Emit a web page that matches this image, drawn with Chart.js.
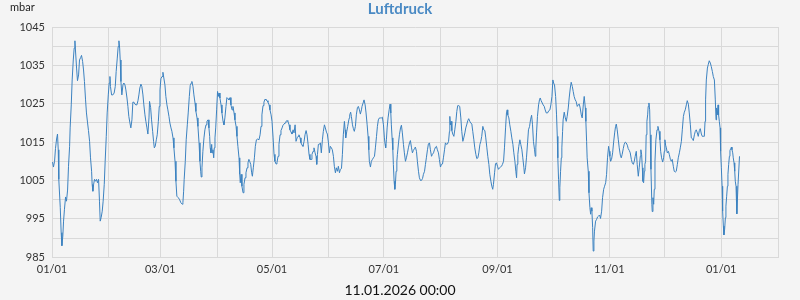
<!DOCTYPE html>
<html>
<head>
    <title>Luftdruck</title>
    <script src="https://cdn.jsdelivr.net/npm/chart.js"></script>
    <style>
        body { margin: 0; background: #f4f4f4; }
        #wrap { width: 800px; height: 300px; }
    </style>
</head>
<body>
    <div id="wrap"><canvas id="luftdruckChart"></canvas></div>

    <script>
        // Tage seit 01.01.2025 00:00
        const days = [
            0.3, 0.8, 1.4, 1.9, 2.5, 3.0, 3.4, 3.7, 4.5, 5.0, 5.4, 5.9, 6.3, 6.8, 7.4, 7.9, 8.5, 9.0, 9.6, 9.9,
            10.5, 11.0, 11.6, 12.1, 12.5, 12.8, 13.4, 13.9, 14.5, 15.0, 15.6, 16.1, 16.7, 17.2, 17.7, 18.3, 18.8, 19.4, 19.9, 20.5,
            21.0, 21.6, 21.9, 22.3, 22.7, 23.2, 23.8, 24.3, 24.8, 25.4, 25.9, 26.3, 26.8, 27.4, 27.9, 28.5, 29.0, 29.6, 30.1, 30.7,
            31.2, 31.6, 31.9, 32.5, 33.2, 33.9, 34.5, 35.0, 35.6, 36.1, 36.5, 36.9, 37.2, 37.6, 38.1, 38.7, 39.2, 39.8, 40.3, 40.9,
            41.4, 41.9, 42.5, 43.0, 43.6, 44.1, 44.7, 45.2, 45.8, 46.3, 46.9, 47.4, 47.9, 48.5, 49.0, 49.6, 50.1, 50.7, 51.2, 51.8,
            52.3, 52.9, 53.2, 53.8, 54.3, 54.9, 55.4, 55.8, 56.3, 56.9, 57.4, 58.0, 58.5, 58.9, 59.4, 60.0, 60.5, 61.0, 61.6, 62.1,
            62.7, 63.2, 63.8, 64.3, 64.9, 65.4, 66.0, 66.5, 67.1, 67.6, 68.1, 68.9, 69.6, 70.3, 71.1, 71.4, 71.8, 72.1, 72.7, 73.2,
            73.8, 74.3, 74.9, 75.4, 76.0, 76.3, 76.9, 77.4, 78.0, 78.5, 79.1, 79.6, 80.2, 80.7, 81.1, 81.4, 81.8, 82.3, 82.9, 83.4,
            84.0, 84.5, 85.1, 85.6, 86.0, 86.3, 86.7, 87.1, 87.4, 87.8, 88.2, 88.5, 88.9, 89.3, 89.8, 90.3, 90.7, 91.1, 91.6, 92.2,
            92.7, 93.3, 93.8, 94.3, 94.9, 95.4, 96.0, 96.5, 97.1, 97.6, 98.2, 98.7, 99.3, 99.8, 100.4, 100.9, 101.4, 102.0, 102.4, 102.7,
            103.1, 103.6, 104.2, 104.7, 105.3, 105.8, 106.4, 106.9, 107.4, 107.8, 108.4, 108.9, 109.3, 109.8, 110.4, 110.9, 111.5, 112.2, 112.9, 113.5,
            114.0, 114.5, 115.1, 115.6, 116.2, 116.7, 117.3, 117.8, 118.4, 118.9, 119.5, 120.0, 120.6, 121.1, 121.6, 122.2, 122.7, 123.3, 123.8, 124.4,
            124.9, 125.5, 126.0, 126.6, 127.1, 127.6, 128.2, 128.7, 129.3, 129.8, 130.4, 130.9, 131.5, 132.0, 132.6, 133.1, 133.7, 134.2, 134.7, 135.3,
            135.8, 136.4, 136.9, 137.5, 138.0, 138.6, 139.1, 139.7, 140.2, 140.7, 141.3, 141.8, 142.4, 142.9, 143.5, 144.0, 144.4, 144.8, 145.3, 145.8,
            146.4, 146.9, 147.5, 148.0, 148.6, 149.1, 149.7, 150.2, 150.8, 151.3, 151.8, 152.4, 152.9, 153.5, 154.0, 154.6, 155.1, 155.7, 156.2, 156.8,
            157.3, 157.9, 158.4, 158.9, 159.5, 159.9, 160.2, 160.8, 161.3, 161.9, 162.2, 162.4, 162.9, 163.3, 163.9, 164.4, 164.9, 165.5, 166.0, 166.6,
            167.1, 167.7, 168.2, 168.8, 169.1, 169.7, 170.2, 170.8, 171.3, 171.9, 172.4, 172.8, 173.1, 173.7, 174.2, 174.8, 175.3, 175.9, 176.4, 177.0,
            177.5, 178.0, 178.6, 179.1, 179.7, 180.2, 180.8, 181.3, 181.7, 182.0, 182.4, 182.8, 183.3, 183.9, 184.4, 184.8, 185.1, 185.5, 185.9, 186.2,
            186.6, 187.0, 187.3, 187.7, 188.1, 188.4, 189.0, 189.5, 190.1, 190.6, 191.1, 191.7, 192.2, 192.8, 193.3, 193.9, 194.4, 195.0, 195.5, 196.1,
            196.6, 197.1, 197.7, 198.2, 198.8, 199.3, 199.9, 200.4, 201.0, 201.5, 202.1, 202.6, 203.2, 203.7, 204.2, 204.8, 205.3, 205.9, 206.4, 207.0,
            207.5, 208.1, 208.6, 209.2, 209.7, 210.2, 210.8, 211.3, 211.9, 212.4, 213.0, 213.5, 214.1, 214.6, 215.2, 215.7, 216.3, 216.8, 217.0, 217.3,
            217.7, 218.1, 218.6, 219.2, 219.7, 220.3, 220.8, 221.3, 221.9, 222.4, 223.0, 223.5, 224.1, 224.6, 225.2, 225.7, 226.3, 226.8, 227.3, 227.9,
            228.4, 229.0, 229.5, 230.1, 230.6, 231.2, 231.7, 232.3, 232.8, 233.4, 233.9, 234.4, 235.0, 235.5, 236.1, 236.6, 237.2, 237.7, 238.3, 238.8,
            239.4, 239.9, 240.4, 240.8, 241.4, 241.9, 242.4, 243.0, 243.5, 244.1, 244.6, 245.2, 245.7, 246.3, 246.8, 247.4, 247.9, 248.3, 248.6, 249.2,
            249.7, 250.3, 250.8, 251.4, 251.9, 252.5, 253.0, 253.4, 253.7, 254.1, 254.6, 255.2, 255.7, 256.3, 256.8, 257.4, 257.7, 258.3, 258.8, 259.4,
            259.9, 260.5, 261.0, 261.6, 262.1, 262.6, 263.2, 263.6, 263.9, 264.3, 264.8, 265.4, 265.9, 266.3, 266.8, 267.4, 267.9, 268.5, 269.0, 269.6,
            270.3, 271.0, 271.6, 272.1, 272.7, 273.2, 273.6, 274.1, 274.7, 275.2, 275.6, 275.9, 276.3, 276.7, 277.0, 277.4, 277.8, 278.1, 278.5, 278.8,
            279.4, 279.9, 280.5, 281.0, 281.6, 282.1, 282.7, 283.2, 283.8, 284.3, 284.8, 285.4, 285.9, 286.5, 287.0, 287.6, 288.1, 288.7, 289.2, 289.8,
            290.3, 290.9, 291.2, 291.6, 291.9, 292.5, 292.9, 293.4, 293.8, 294.1, 294.5, 294.9, 295.2, 295.6, 295.9, 296.5, 297.0, 297.6, 298.1, 298.7,
            299.2, 299.8, 300.3, 300.9, 301.4, 302.0, 302.5, 303.0, 303.6, 304.0, 304.3, 304.7, 305.2, 305.8, 306.3, 306.9, 307.4, 307.8, 308.3, 308.9,
            309.4, 310.0, 310.5, 311.0, 311.6, 312.1, 312.7, 313.2, 313.8, 314.3, 314.9, 315.4, 316.0, 316.5, 317.1, 317.6, 318.1, 318.7, 319.2, 319.8,
            320.3, 320.9, 321.2, 321.6, 322.0, 322.3, 322.7, 323.1, 323.4, 323.8, 324.1, 324.5, 324.9, 325.2, 325.6, 326.0, 326.3, 326.7, 327.2, 327.4,
            327.8, 328.2, 328.5, 328.9, 329.4, 330.0, 330.5, 331.1, 331.6, 332.0, 332.5, 333.1, 333.6, 334.0, 334.3, 334.7, 335.1, 335.6, 336.2, 336.7,
            337.3, 337.8, 338.3, 338.9, 339.4, 340.0, 340.5, 341.1, 341.6, 342.2, 342.7, 343.3, 343.8, 344.4, 344.9, 345.4, 346.0, 346.5, 347.1, 347.6,
            348.2, 348.7, 349.3, 349.8, 350.4, 350.9, 351.4, 352.0, 352.5, 353.1, 353.6, 354.2, 354.7, 355.3, 355.8, 356.2, 356.5, 356.9, 357.5, 358.0,
            358.5, 359.1, 359.6, 360.2, 360.7, 361.3, 361.8, 362.2, 362.5, 362.9, 363.3, 363.6, 364.0, 364.4, 364.7, 365.1, 365.5, 365.8, 366.2, 366.5,
            366.9, 367.3, 367.6, 368.0, 368.4, 368.7, 369.1, 369.5, 369.8, 370.2, 370.6, 370.9, 371.3, 371.6, 372.0, 372.4, 372.7, 373.1, 373.5, 373.6,
            374.2, 375.0
        ];

        // Luftdruck in mbar
        const mbar = [
            1009.8, 1008.5, 1010.0, 1013.3, 1015.8, 1017.1, 1013.0, 1005.3, 998.0, 991.4, 988.0, 990.5, 994.4, 997.5, 1000.7, 999.6, 1002.5, 1008.7, 1013.9, 1018.7,
            1024.7, 1031.2, 1036.4, 1039.5, 1041.4, 1039.0, 1034.3, 1031.0, 1032.5, 1036.4, 1037.0, 1037.6, 1036.0, 1033.8, 1030.8, 1026.0, 1022.6, 1020.0, 1018.0, 1015.2,
            1010.9, 1007.4, 1004.0, 1002.2, 1004.0, 1005.3, 1004.8, 1005.3, 1004.4, 1005.3, 999.6, 994.4, 995.3, 997.0, 999.6, 1004.0, 1010.0, 1016.5, 1022.6, 1027.3,
            1030.4, 1032.1, 1029.5, 1027.3, 1027.3, 1027.8, 1029.5, 1033.4, 1036.9, 1039.9, 1041.4, 1039.5, 1036.4, 1030.8, 1027.3, 1029.9, 1030.4, 1029.9, 1028.6, 1026.5,
            1024.3, 1021.7, 1020.0, 1018.7, 1020.8, 1025.4, 1025.4, 1024.9, 1024.7, 1024.7, 1025.8, 1027.3, 1029.1, 1030.1, 1029.5, 1027.3, 1024.7, 1022.1, 1020.4, 1018.7,
            1017.1, 1021.3, 1025.6, 1024.0, 1020.8, 1017.8, 1015.2, 1013.5, 1013.9, 1015.6, 1016.9, 1020.4, 1024.3, 1028.6, 1031.5, 1032.1, 1033.2, 1031.7, 1029.9, 1026.9,
            1024.7, 1023.4, 1021.7, 1020.0, 1018.7, 1017.8, 1016.1, 1013.5, 1010.0, 1004.8, 1000.9, 1000.5, 1000.0, 999.2, 998.8, 999.2, 1002.2, 1005.3, 1010.0, 1015.6,
            1019.5, 1022.6, 1026.9, 1029.8, 1030.4, 1030.8, 1029.5, 1027.3, 1025.2, 1023.0, 1021.3, 1019.1, 1014.8, 1010.0, 1007.4, 1005.9, 1008.3, 1012.6, 1016.1, 1018.2,
            1019.5, 1020.4, 1020.8, 1018.7, 1016.5, 1013.5, 1012.2, 1014.4, 1012.2, 1013.0, 1010.9, 1013.5, 1016.1, 1018.7, 1023.4, 1028.2, 1026.9, 1027.8, 1026.5, 1024.7,
            1022.6, 1020.4, 1019.5, 1021.3, 1024.3, 1026.6, 1026.3, 1026.0, 1026.6, 1024.7, 1023.4, 1024.3, 1022.6, 1020.8, 1019.1, 1016.5, 1013.9, 1010.9, 1006.6, 1004.4,
            1006.6, 1003.5, 1001.8, 1004.0, 1005.7, 1007.0, 1008.3, 1009.6, 1010.5, 1010.0, 1009.2, 1007.0, 1006.1, 1008.3, 1010.9, 1013.9, 1015.6, 1015.8, 1015.6, 1016.9,
            1019.1, 1022.1, 1024.5, 1025.4, 1026.2, 1026.0, 1025.8, 1025.4, 1024.7, 1023.4, 1022.1, 1020.4, 1016.1, 1011.8, 1010.0, 1009.3, 1009.6, 1011.3, 1014.4, 1016.9,
            1018.0, 1018.7, 1019.4, 1019.7, 1020.0, 1020.4, 1020.6, 1020.4, 1019.5, 1018.2, 1017.6, 1017.1, 1018.2, 1017.4, 1019.5, 1015.2, 1016.1, 1016.5, 1016.9, 1016.1,
            1014.8, 1014.2, 1013.9, 1015.2, 1016.9, 1018.0, 1016.9, 1014.4, 1011.8, 1010.5, 1010.5, 1011.8, 1012.6, 1013.5, 1012.2, 1011.3, 1009.2, 1011.8, 1014.4, 1014.4,
            1014.8, 1012.2, 1015.6, 1017.8, 1019.5, 1018.7, 1017.6, 1017.1, 1014.8, 1012.2, 1013.9, 1013.5, 1013.0, 1011.3, 1008.7, 1007.0, 1008.3, 1007.4, 1008.7, 1007.0,
            1007.9, 1008.1, 1011.8, 1016.9, 1020.4, 1018.2, 1016.1, 1017.8, 1019.1, 1020.8, 1021.3, 1022.1, 1022.8, 1021.7, 1019.5, 1018.5, 1017.8, 1019.1, 1022.1, 1024.0,
            1024.3, 1023.4, 1022.3, 1023.4, 1024.3, 1025.2, 1026.0, 1024.7, 1022.6, 1019.5, 1016.5, 1013.0, 1010.0, 1008.5, 1010.0, 1010.5, 1010.9, 1011.3, 1013.5, 1016.5,
            1019.1, 1020.8, 1021.3, 1021.3, 1021.3, 1021.5, 1019.5, 1016.1, 1014.4, 1013.5, 1015.6, 1018.7, 1021.3, 1023.4, 1024.9, 1022.6, 1019.5, 1016.1, 1013.0, 1009.2,
            1004.8, 1002.7, 1004.0, 1007.4, 1010.0, 1011.8, 1014.8, 1016.9, 1018.7, 1019.4, 1017.4, 1014.4, 1012.2, 1010.0, 1010.9, 1012.2, 1013.5, 1014.8, 1015.4, 1013.5,
            1012.2, 1012.8, 1013.3, 1013.7, 1012.6, 1010.0, 1007.4, 1005.7, 1005.0, 1005.0, 1005.5, 1006.6, 1007.4, 1009.2, 1010.9, 1013.0, 1014.5, 1014.8, 1013.0, 1011.3,
            1011.8, 1012.2, 1013.0, 1013.7, 1013.9, 1013.0, 1012.2, 1010.5, 1008.5, 1009.2, 1009.3, 1010.9, 1013.0, 1014.8, 1014.4, 1014.5, 1015.2, 1017.8, 1021.7, 1019.5,
            1020.4, 1018.0, 1017.1, 1016.5, 1018.2, 1020.4, 1023.0, 1024.5, 1024.5, 1024.3, 1021.3, 1017.8, 1015.2, 1016.1, 1017.4, 1018.7, 1019.7, 1020.6, 1021.1, 1020.4,
            1020.0, 1019.7, 1017.8, 1015.6, 1013.5, 1011.8, 1010.7, 1010.9, 1012.2, 1014.4, 1015.2, 1016.5, 1019.1, 1018.2, 1018.0, 1016.1, 1013.5, 1011.3, 1009.2, 1006.6,
            1004.8, 1003.5, 1002.7, 1004.0, 1007.0, 1009.3, 1009.6, 1008.7, 1007.9, 1008.3, 1008.5, 1008.7, 1009.2, 1010.0, 1013.5, 1018.7, 1022.6, 1023.4, 1022.1, 1021.3,
            1019.5, 1017.8, 1016.1, 1014.4, 1012.2, 1010.0, 1007.4, 1005.7, 1009.2, 1011.8, 1013.9, 1015.6, 1014.4, 1013.0, 1010.9, 1008.3, 1006.7, 1008.3, 1010.9, 1014.8,
            1018.2, 1019.1, 1020.8, 1022.0, 1019.5, 1015.2, 1013.0, 1011.3, 1013.5, 1017.4, 1021.7, 1024.7, 1026.0, 1026.5, 1025.8, 1025.2, 1024.7, 1024.3, 1023.4, 1022.6,
            1022.6, 1023.2, 1023.4, 1024.7, 1026.9, 1031.2, 1030.4, 1029.9, 1026.9, 1022.1, 1016.5, 1010.9, 1005.3, 999.8, 1003.1, 1007.4, 1010.9, 1013.5, 1017.8, 1020.8,
            1022.8, 1021.5, 1020.4, 1021.7, 1023.9, 1026.5, 1029.1, 1030.6, 1029.5, 1028.2, 1026.9, 1026.0, 1025.6, 1024.3, 1024.7, 1024.9, 1023.9, 1022.1, 1021.3, 1024.7,
            1026.9, 1023.9, 1020.4, 1015.2, 1010.9, 1007.4, 1001.8, 997.9, 996.2, 997.9, 997.0, 992.7, 986.6, 989.2, 991.8, 994.4, 994.8, 995.5, 995.7, 996.0,
            995.1, 997.0, 1000.5, 1002.7, 1003.5, 1004.4, 1006.6, 1010.9, 1013.9, 1012.6, 1011.3, 1010.0, 1010.5, 1012.2, 1014.8, 1017.4, 1019.1, 1019.7, 1018.2, 1015.6,
            1013.5, 1011.6, 1010.9, 1011.8, 1013.3, 1014.4, 1015.0, 1014.8, 1014.2, 1013.3, 1012.8, 1012.2, 1010.5, 1009.6, 1009.2, 1010.0, 1011.3, 1012.6, 1009.2, 1006.1,
            1008.3, 1011.3, 1013.0, 1011.8, 1008.3, 1004.8, 1004.4, 1007.4, 1009.2, 1010.0, 1016.9, 1020.4, 1022.1, 1024.3, 1025.2, 1023.4, 1016.9, 1007.9, 998.8, 996.9,
            1000.5, 998.8, 1002.7, 1010.0, 1015.6, 1018.2, 1019.1, 1017.8, 1015.6, 1012.6, 1010.9, 1009.8, 1010.9, 1012.6, 1015.6, 1014.2, 1013.5, 1012.2, 1012.6, 1011.8,
            1010.5, 1010.0, 1010.5, 1008.7, 1007.4, 1007.2, 1007.4, 1009.2, 1010.9, 1012.2, 1013.5, 1015.2, 1018.2, 1021.7, 1022.8, 1023.4, 1024.7, 1025.8, 1024.9, 1022.6,
            1019.5, 1016.1, 1015.9, 1015.4, 1016.9, 1017.8, 1018.2, 1017.4, 1016.5, 1018.0, 1018.5, 1017.1, 1016.5, 1016.5, 1016.5, 1020.4, 1026.0, 1031.2, 1034.3, 1035.3,
            1036.2, 1035.6, 1034.7, 1033.4, 1032.1, 1031.2, 1026.0, 1020.8, 1023.9, 1022.1, 1024.7, 1022.1, 1020.4, 1018.7, 1012.6, 1008.3, 1003.5, 997.0, 993.1, 990.8,
            992.3, 995.3, 998.3, 1000.9, 1003.5, 1006.6, 1009.2, 1011.3, 1012.8, 1013.3, 1013.7, 1013.0, 1012.2, 1010.9, 1009.6, 1007.4, 1004.8, 1003.5, 998.8, 996.3,
            1004.0, 1011.3
        ];

        // Monatsanfaenge (Tage seit 01.01.2025) und Beschriftungen
        const monthStarts = [0, 31, 59, 90, 120, 151, 181, 212, 243, 273, 304, 334, 365, 396];
        const monthLabels = ['01/01', '', '03/01', '', '05/01', '', '07/01', '', '09/01', '', '11/01', '', '01/01', ''];
        const yTicks = [985, 995, 1005, 1015, 1025, 1035, 1045];

        const gridColor = '#d9d9d9';
        Chart.defaults.font.family = 'Lato';

        const background = {
            id: 'background',
            beforeDraw(chart) {
                const c = chart.ctx;
                c.save();
                c.fillStyle = '#f4f4f4';
                c.fillRect(0, 0, chart.width, chart.height);
                c.restore();
            }
        };

        const unitLabel = {
            id: 'unitLabel',
            afterDraw(chart) {
                const c = chart.ctx;
                c.save();
                c.font = '11px Lato';
                c.fillStyle = '#222';
                c.textBaseline = 'alphabetic';
                c.fillText('mbar', 10, 11);
                c.restore();
            }
        };

        const ctx = document.getElementById('luftdruckChart').getContext('2d');
        new Chart(ctx, {
            type: 'line',
            data: {
                datasets: [{
                    label: 'Luftdruck',
                    data: days.map((d, i) => ({ x: d, y: mbar[i] })),
                    borderColor: '#3c82c0',
                    borderWidth: 1,
                    pointRadius: 0,
                    tension: 0,
                    fill: false
                }]
            },
            options: {
                responsive: true,
                maintainAspectRatio: false,
                animation: false,
                layout: { padding: 0 },
                plugins: {
                    legend: { display: false },
                    tooltip: { enabled: false },
                    title: {
                        display: true,
                        text: 'Luftdruck',
                        color: '#4a8ac4',
                        font: { size: 15, weight: 'bold' },
                        padding: { top: 0, bottom: 9 }
                    },
                    subtitle: {
                        display: true,
                        position: 'bottom',
                        text: '11.01.2026 00:00',
                        color: '#111',
                        font: { size: 14 },
                        padding: { top: 4, bottom: 1 }
                    }
                },
                scales: {
                    x: {
                        type: 'linear',
                        min: 0,
                        max: 396,
                        afterBuildTicks: scale => {
                            scale.ticks = monthStarts.map(v => ({ value: v }));
                        },
                        afterFit: scale => { scale.height = 21; },
                        ticks: {
                            autoSkip: false,
                            maxRotation: 0,
                            padding: 6,
                            color: '#333',
                            font: { size: 11 },
                            callback: (value, index) => monthLabels[index]
                        },
                        grid: { color: gridColor, drawTicks: false },
                        border: { color: gridColor }
                    },
                    y: {
                        min: 985,
                        max: 1045,
                        afterFit: scale => { scale.width = 52; },
                        ticks: {
                            stepSize: 5,
                            padding: 7,
                            color: '#333',
                            font: { size: 11 },
                            callback: value => yTicks.includes(value) ? value : ''
                        },
                        grid: { color: gridColor, drawTicks: false },
                        border: { color: gridColor }
                    },
                    yRight: {
                        position: 'right',
                        afterFit: scale => { scale.width = 22; },
                        ticks: { display: false },
                        grid: { display: false, drawTicks: false },
                        border: { display: false }
                    }
                }
            },
            plugins: [background, unitLabel]
        });
    </script>
</body>
</html>
